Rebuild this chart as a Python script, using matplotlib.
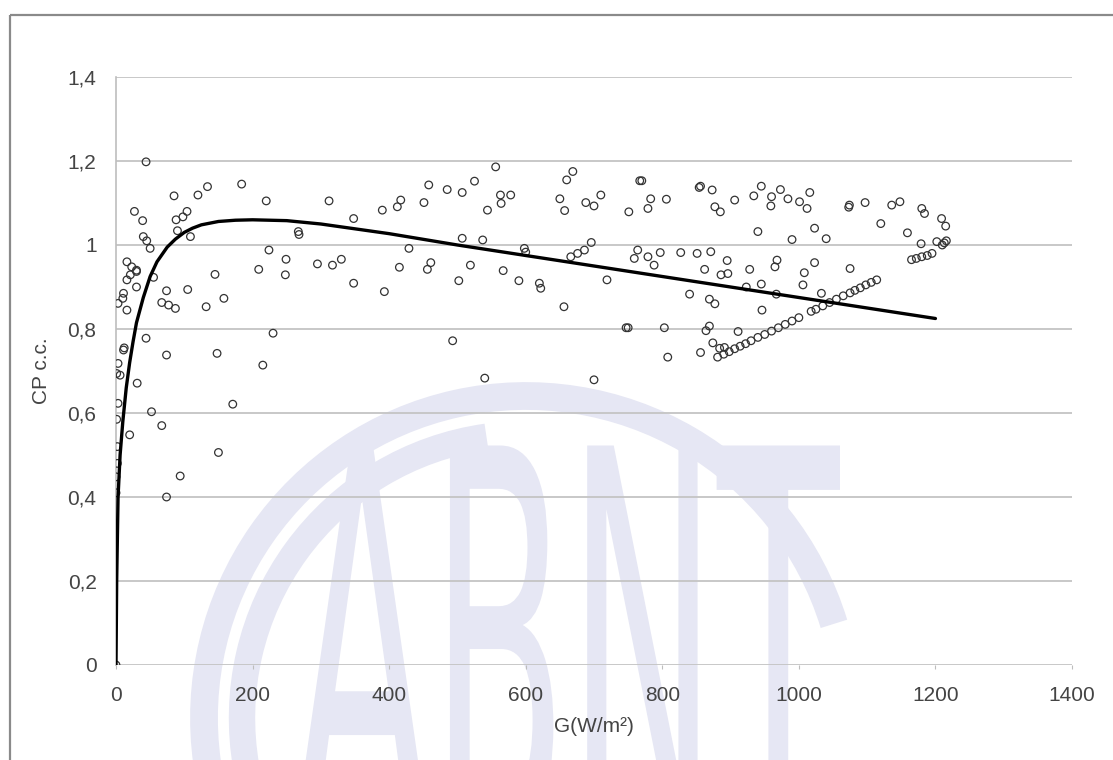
import matplotlib
matplotlib.use("Agg")
import matplotlib.pyplot as plt
from matplotlib.patches import Arc, PathPatch
from matplotlib.textpath import TextPath
from matplotlib.font_manager import FontProperties
from matplotlib.transforms import Affine2D

# ---------------- data ----------------
G_obs = [
    44, 184, 134, 120, 85, 220, 27, 39, 104, 98, 88, 90, 109, 40, 45, 50, 224, 249, 248, 209,
    145, 16, 23, 30, 21, 30, 55, 74, 105, 158, 11, 10, 3, 16, 67, 77, 87, 132, 230, 44, 16, 30,
    11, 74, 148, 215, 3, 1, 6, 31, 3, 171, 52, 67, 20, 2, 2, 150, 94, 74, 0, 0, 0, 12, 1,
    312, 458, 417, 412, 390, 451, 348, 267, 268, 295, 317, 330, 348, 393, 429, 415, 461, 456,
    556, 669, 660, 525, 485, 507, 563, 578, 564, 544, 767, 770, 854, 856, 873, 906, 934, 877, 885,
    650, 657, 688, 700, 710, 783, 779, 806, 751, 507, 537, 598, 600, 696, 686, 676, 666, 764, 759,
    779, 788, 797, 827, 851, 871, 895, 862, 886, 896, 928, 923, 940, 519, 502, 567, 590, 620, 622,
    656, 719, 840, 869, 877, 747, 750, 803, 869, 864, 911, 493, 808, 856, 874, 884, 891, 540, 700,
    945, 960, 959, 973, 984, 1001, 1012, 1016, 1074, 1073, 1097, 1136, 1148, 1120, 1180, 1184,
    1209, 1215, 1159, 1179, 1202, 1210, 1213, 1216, 1165, 1172, 1180, 1188, 1195, 1023, 990,
    1040, 968, 965, 1023, 1008, 1075, 945, 1006, 967, 1033, 946,
    881, 890, 898, 906, 914, 922, 930, 940, 950, 960, 970, 980, 990, 1000, 1018, 1025, 1035,
    1045, 1055, 1065, 1075, 1082, 1090, 1098, 1106, 1114,
]
CP_obs = [
    1.198, 1.145, 1.139, 1.119, 1.117, 1.105, 1.08, 1.058, 1.08, 1.067, 1.06, 1.034, 1.02, 1.02,
    1.01, 0.992, 0.988, 0.966, 0.929, 0.942, 0.93, 0.96, 0.948, 0.94, 0.929, 0.90, 0.923, 0.891,
    0.894, 0.873, 0.885, 0.873, 0.861, 0.845, 0.863, 0.857, 0.849, 0.853, 0.79, 0.778, 0.917, 0.937,
    0.75, 0.738, 0.742, 0.714, 0.718, 0.694, 0.69, 0.671, 0.623, 0.621, 0.603, 0.57, 0.548, 0.52,
    0.48, 0.506, 0.45, 0.40, 0.448, 0.41, 0.0, 0.755, 0.585,
    1.105, 1.143, 1.107, 1.091, 1.083, 1.101, 1.063, 1.032, 1.025, 0.955, 0.952, 0.966, 0.909,
    0.889, 0.992, 0.947, 0.958, 0.942,
    1.186, 1.175, 1.155, 1.152, 1.132, 1.125, 1.119, 1.119, 1.099, 1.083, 1.153, 1.153, 1.137,
    1.14, 1.131, 1.107, 1.117, 1.091, 1.079,
    1.11, 1.082, 1.101, 1.093, 1.119, 1.11, 1.087, 1.109, 1.079, 1.016, 1.012, 0.992, 0.983,
    1.006, 0.988, 0.98, 0.972, 0.988, 0.968,
    0.972, 0.952, 0.982, 0.982, 0.98, 0.984, 0.963, 0.942, 0.929, 0.932, 0.942, 0.90, 1.032,
    0.952, 0.915, 0.939, 0.915, 0.909, 0.897,
    0.853, 0.917, 0.883, 0.871, 0.86, 0.803, 0.803, 0.803, 0.807, 0.796, 0.794, 0.772, 0.733,
    0.744, 0.767, 0.754, 0.756, 0.683, 0.679,
    1.14, 1.115, 1.093, 1.132, 1.11, 1.103, 1.087, 1.125, 1.095, 1.09, 1.101, 1.095, 1.103,
    1.051, 1.087, 1.075,
    1.063, 1.045, 1.029, 1.003, 1.008, 1.0, 1.005, 1.01, 0.965, 0.968, 0.972, 0.975, 0.98,
    1.04, 1.013,
    1.015, 0.964, 0.948, 0.958, 0.934, 0.944, 0.907, 0.905, 0.883, 0.885, 0.845,
    0.733, 0.740, 0.746, 0.753, 0.759, 0.765, 0.772, 0.780, 0.787, 0.795, 0.803, 0.811, 0.819,
    0.827, 0.842, 0.847, 0.855, 0.863, 0.871, 0.879, 0.886, 0.892, 0.898, 0.905, 0.911, 0.917,
]

G_fit = [0, 1, 3, 6, 10, 15, 20, 25, 30, 40, 50, 60, 75, 87, 100, 112, 125, 150, 175, 200,
         250, 300, 400, 500, 600, 700, 800, 900, 1000, 1100, 1200]
CP_fit = [0, 0.2, 0.4, 0.5, 0.58, 0.66, 0.72, 0.77, 0.815, 0.875, 0.925, 0.96, 0.995, 1.014,
          1.03, 1.04, 1.048, 1.056, 1.059, 1.06, 1.058, 1.05, 1.027, 1.0, 0.975, 0.95, 0.925,
          0.9, 0.875, 0.85, 0.825]

x_ticks = [0, 200, 400, 600, 800, 1000, 1200, 1400]
y_ticks = [0, 0.2, 0.4, 0.6, 0.8, 1.0, 1.2, 1.4]
y_tick_labels = ["0", "0,2", "0,4", "0,6", "0,8", "1", "1,2", "1,4"]
x_label = "G(W/m²)"
y_label = "CP c.c."
watermark = "ABNT"

# ---------------- figure ----------------
W, H = 1113, 760
fig = plt.figure(figsize=(W / 100, H / 100), dpi=100)
fig.patch.set_facecolor("white")

# background overlay in pixel coordinates (watermark + frame)
bg = fig.add_axes([0, 0, 1, 1], zorder=0)
bg.set_xlim(0, W)
bg.set_ylim(H, 0)
bg.axis("off")
wm_col = "#e6e7f4"
cx, cy = 526, 718
bg.add_patch(Arc((cx, cy), 2 * 322, 2 * 322, theta1=172, theta2=343,
                 lw=20, color=wm_col))
bg.add_patch(Arc((cx, cy), 2 * 284, 2 * 284, theta1=170, theta2=262,
                 lw=19, color=wm_col))
tp = TextPath((0, 0), watermark, size=1,
              prop=FontProperties(family="DejaVu Sans", weight="normal"))
ext = tp.get_extents()
trans = (Affine2D().translate(-ext.x0, 0)
         .scale(545 / ext.width, -390 / 0.73)
         .translate(295, 835))
bg.add_patch(PathPatch(trans.transform_path(tp), facecolor=wm_col,
                       edgecolor="none"))
# frame
bg.plot([10, W], [15, 15], color="#8a8a8a", lw=1.6, solid_capstyle="butt")
bg.plot([10, 10], [15, H], color="#8a8a8a", lw=1.6, solid_capstyle="butt")

# main axes
ax = fig.add_axes([116 / W, 1 - 665 / H, (1072 - 116) / W, (665 - 77) / H], zorder=1)
ax.set_facecolor("none")
ax.set_xlim(0, 1400)
ax.set_ylim(0, 1.4)

for y in y_ticks:
    ax.axhline(y, color="#c4c4c4", lw=1.3, zorder=1)

ax.scatter(G_obs, CP_obs, s=30, facecolors="none", edgecolors="#333333",
           linewidths=0.9, zorder=3)
ax.plot(G_fit, CP_fit, color="black", lw=2.4, zorder=4, solid_capstyle="round")

for s in ["top", "right", "bottom"]:
    ax.spines[s].set_visible(False)
ax.spines["left"].set_color("#bdbdbd")
ax.spines["left"].set_linewidth(1.2)

font = "Liberation Sans"
ax.set_xticks(x_ticks)
ax.set_xticklabels([str(v) for v in x_ticks], fontsize=15, color="#444444",
                   fontfamily=font)
ax.set_yticks(y_ticks)
ax.set_yticklabels(y_tick_labels, fontsize=15, color="#444444", fontfamily=font)
ax.tick_params(axis="x", length=3, color="#bdbdbd", pad=12)
ax.tick_params(axis="y", length=0, pad=14)

ax.set_xlabel(x_label, fontsize=15, color="#444444", fontfamily=font, labelpad=9)
ax.set_ylabel(y_label, fontsize=15, color="#444444", fontfamily=font, labelpad=12)

fig.savefig("out.png", dpi=100)
